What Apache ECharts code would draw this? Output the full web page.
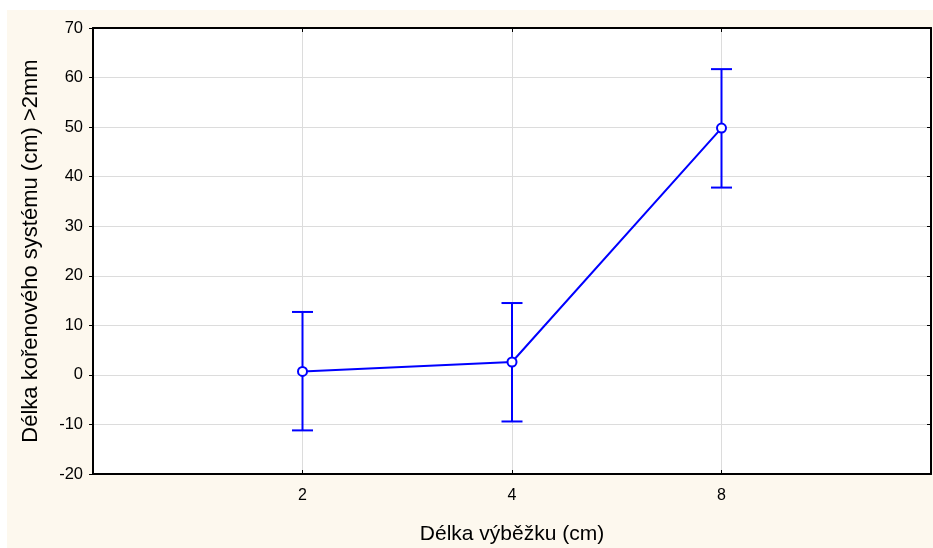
<!DOCTYPE html>
<html>
<head>
<meta charset="utf-8">
<script src="https://cdn.jsdelivr.net/npm/echarts@6/dist/echarts.min.js"></script>
<style>
  html, body { margin: 0; padding: 0; background: #fff; }
  #chart { width: 933px; height: 548px; }
</style>
</head>
<body>
<div id="chart"></div>
<script>
// categories on x axis (empty slots at both ends keep the spacing of the original)
const categories = ['', '2', '4', '8', '']
// means and error bar limits (cm)
const means = [null, 0.7, 2.6, 49.8, null]
const lower = [null, -11.2, -9.4, 37.8, null]
const upper = [null, 12.7, 14.5, 61.7, null]

const blue = '#0000ff'
const font = 'Liberation Sans, Arial, sans-serif'

const errData = []
for (let i = 0; i < categories.length; i++) {
    if (means[i] !== null) errData.push([i, lower[i], upper[i]])
}

const chart = echarts.init(document.getElementById('chart'))

chart.setOption({
    animation: false,
    backgroundColor: '#fff',
    graphic: [{
        type: 'rect',
        z: -100,
        shape: { x: 7, y: 10, width: 926, height: 538 },
        style: { fill: '#fdf8ee' }
    }],
    grid: {
        left: 93, right: 2, top: 28, bottom: 74,
        outerBoundsMode: 'none',
        containLabel: false,
        show: true, backgroundColor: '#fff', borderWidth: 0
    },
    xAxis: [{
        type: 'category',
        data: categories,
        boundaryGap: false,
        name: 'Délka výběžku (cm)',
        nameLocation: 'middle',
        nameGap: 50,
        nameTextStyle: { fontFamily: font, fontSize: 21, color: '#000' },
        axisLine: { onZero: false, lineStyle: { color: '#000', width: 2 } },
        axisTick: { inside: true, length: 4, lineStyle: { color: '#000' } },
        axisLabel: { fontFamily: font, fontSize: 16, color: '#000', margin: 14 },
        splitLine: { show: true, lineStyle: { color: '#dcdcdc', width: 1 } }
    }, {
        type: 'category',
        data: categories,
        boundaryGap: false,
        position: 'top',
        axisLine: { onZero: false, lineStyle: { color: '#000', width: 2 } },
        axisTick: { inside: true, length: 4, lineStyle: { color: '#000' } },
        axisLabel: { show: false },
        splitLine: { show: false }
    }],
    yAxis: [{
        type: 'value',
        min: -20, max: 70, interval: 10,
        name: 'Délka kořenového systému (cm) >2mm',
        nameLocation: 'middle',
        nameGap: 51,
        nameTextStyle: { fontFamily: font, fontSize: 22, color: '#000' },
        axisLine: { show: true, onZero: false, lineStyle: { color: '#000', width: 2 } },
        axisTick: { show: true, length: 4, lineStyle: { color: '#000' } },
        axisLabel: { fontFamily: font, fontSize: 16.5, color: '#000', margin: 10 },
        splitLine: { show: true, lineStyle: { color: '#dcdcdc', width: 1 } }
    }, {
        type: 'value',
        min: -20, max: 70, interval: 10,
        position: 'right',
        axisLine: { show: true, onZero: false, lineStyle: { color: '#000', width: 2 } },
        axisTick: { show: true, inside: true, length: 4, lineStyle: { color: '#000' } },
        axisLabel: { show: false },
        splitLine: { show: false }
    }],
    series: [{
        type: 'custom',
        z: 3,
        data: errData,
        renderItem: function (params, api) {
            const x = api.value(0)
            const lo = api.coord([x, api.value(1)])
            const hi = api.coord([x, api.value(2)])
            const w = 10.5
            const st = { stroke: blue, lineWidth: 2 }
            return {
                type: 'group',
                children: [
                    { type: 'line', shape: { x1: lo[0], y1: lo[1], x2: hi[0], y2: hi[1] }, style: st },
                    { type: 'line', shape: { x1: lo[0] - w, y1: lo[1], x2: lo[0] + w, y2: lo[1] }, style: st },
                    { type: 'line', shape: { x1: hi[0] - w, y1: hi[1], x2: hi[0] + w, y2: hi[1] }, style: st }
                ]
            }
        }
    }, {
        type: 'line',
        z: 4,
        data: means,
        connectNulls: false,
        symbol: 'emptyCircle',
        symbolSize: 9,
        lineStyle: { color: blue, width: 2 },
        itemStyle: { color: blue, borderColor: blue, borderWidth: 2 }
    }]
})
</script>
</body>
</html>
